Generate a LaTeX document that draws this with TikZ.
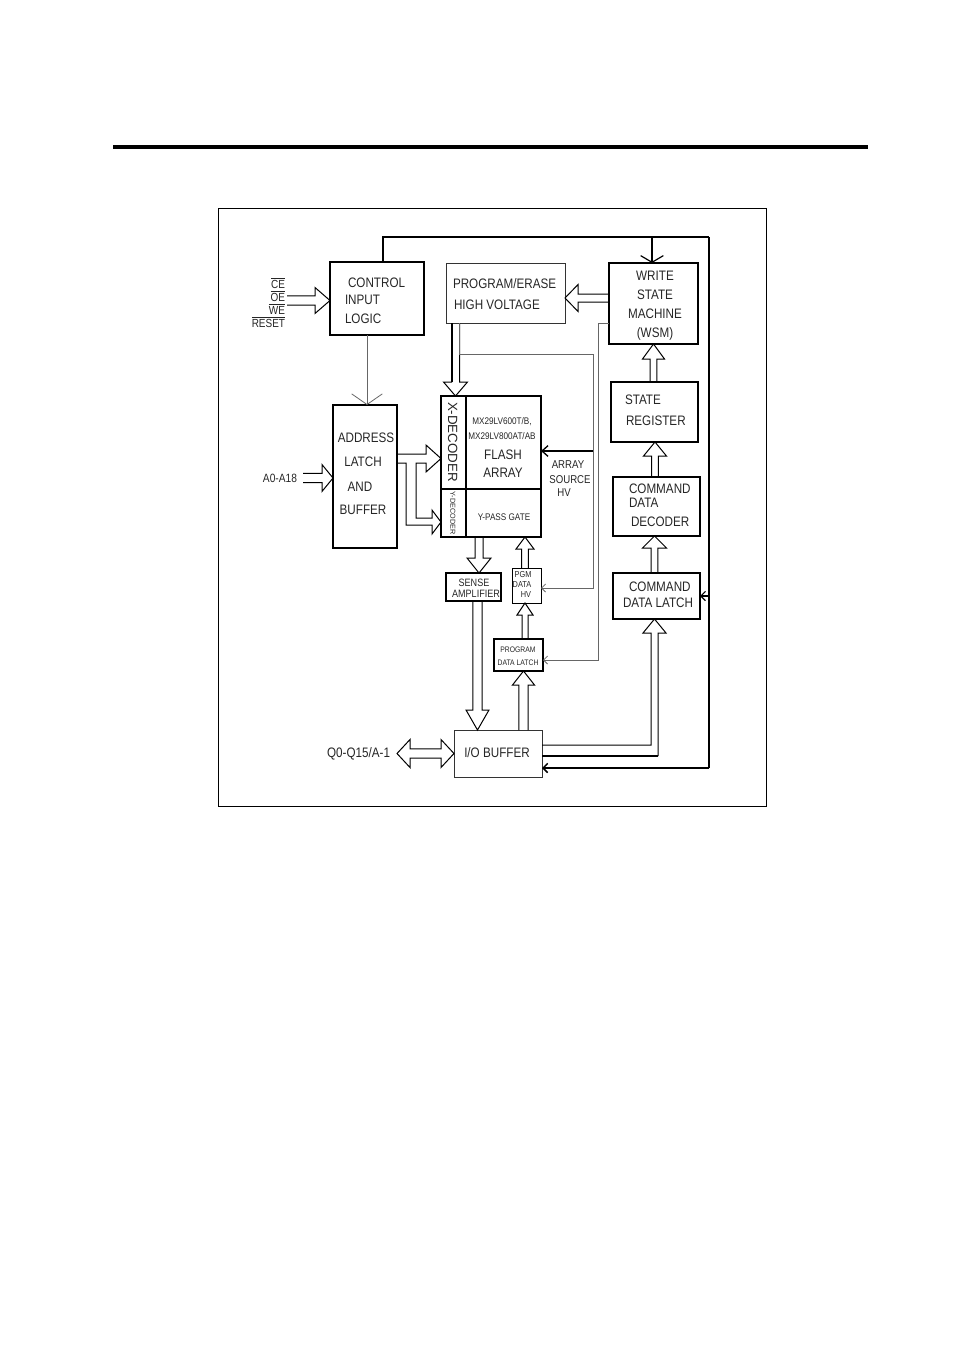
\documentclass[tikz,border=0pt]{standalone}
\usepackage{fontspec}
\setmainfont{Liberation Sans}
\newfontfamily\nf[FakeStretch=0.85]{Liberation Sans}
\usetikzlibrary{calc,fit,arrows.meta}
\newcommand\ovl[1]{\vbox{\hrule height 0.5pt\kern0.9pt\hbox{#1}}}
\newcommand\fatarrow[5]{%
  \coordinate (fah) at ($(#2)!#5!(#1)$);
  \draw[fat] ($(#1)!#3!90:(#2)$) -- ($(fah)!#3!90:(#2)$) -- ($(fah)!#4!90:(#2)$) -- (#2)
    -- ($(fah)!#4!-90:(#2)$) -- ($(fah)!#3!-90:(#2)$) -- ($(#1)!#3!-90:(#2)$);}
\newcommand\fatdarrow[5]{%
  \coordinate (fdha) at ($(#1)!#5!(#2)$);
  \coordinate (fdhb) at ($(#2)!#5!(#1)$);
  \draw[fat] (#1) -- ($(fdha)!#4!90:(#2)$) -- ($(fdha)!#3!90:(#2)$) -- ($(fdhb)!#3!90:(#2)$)
    -- ($(fdhb)!#4!90:(#2)$) -- (#2) -- ($(fdhb)!#4!-90:(#2)$) -- ($(fdhb)!#3!-90:(#2)$)
    -- ($(fdha)!#3!-90:(#2)$) -- ($(fdha)!#4!-90:(#2)$) -- cycle;}
\tikzset{
  box/.style={draw=black, inner sep=0pt, outer sep=0pt},
  thk/.style={box, line width=1.5pt},
  med/.style={box, line width=1.1pt},
  thn/.style={box, line width=0.75pt},
  fat/.style={draw=black, line width=0.75pt, line join=miter},
  txt/.style={inner sep=0pt, outer sep=0pt, text=black!85},
  tA/.style={txt, font=\nf\fontsize{10.3}{12}\selectfont, text height=7.4pt, text depth=0pt},
  tB/.style={txt, font=\nf\fontsize{7.2}{9}\selectfont, text height=5.2pt, text depth=0pt},
  tC/.style={txt, font=\nf\fontsize{8.5}{10}\selectfont, text height=6.1pt, text depth=0pt},
  tD/.style={txt, font=\nf\fontsize{8}{10}\selectfont, text height=5.7pt, text depth=0pt},
  tE/.style={txt, font=\nf\fontsize{6.5}{8}\selectfont, text height=4.7pt, text depth=0pt},
  tF/.style={txt, font=\nf\fontsize{6}{7}\selectfont, text height=4.3pt, text depth=0pt},
  tG/.style={txt, font=\nf\fontsize{8.8}{10}\selectfont, text height=6.3pt, text depth=0pt},
  tH/.style={txt, font=\nf\fontsize{9}{10}\selectfont, text height=6.4pt, text depth=0pt},
  tX/.style={txt, font=\fontsize{10}{12}\selectfont, text height=7.2pt, text depth=0pt, rotate=-90},
  tY/.style={txt, font=\fontsize{5.4}{6}\selectfont, text height=3.9pt, text depth=0pt, rotate=-90},
  wire/.style={draw=black!60, line width=0.6pt},
  smallbarb/.style={-{Straight Barb[length=3pt,width=6pt]}},
}
\begin{document}
\begin{tikzpicture}[x=0.75pt,y=-0.75pt]
\useasboundingbox (0,0) rectangle (954,1350);
% rule and frame
\draw[line width=2.3pt] (113,147) -- (868,147);
\draw[line width=0.6pt] (218,208) rectangle (766,806);
% boxes
\node[thk, fit={(330,262)(424,335)}] (cil) {};
\node[thn, draw=black!80, fit={(446,263)(565,323)}] (pe) {};
\node[thk, fit={(609,263)(698,344)}] (wsm) {};
\node[thk, fit={(611,382)(698,442)}] (sr) {};
\node[med, fit={(613,477)(700,536)}] (cdd) {};
\node[thk, fit={(613,573)(700,619)}] (cdl) {};
\node[med, fit={(333,405)(397,548)}] (addr) {};
\node[thk, fit={(441,396)(541,537)}] (fa) {};
\node[med, fit={(446,573)(501,601)}] (sa) {};
\node[thn, fit={(512,568)(541,603)}] (pgm) {};
\node[thk, fit={(494,639)(543,671)}] (pdl) {};
\node[thn, draw=black!80, fit={(454,730)(542,777)}] (io) {};
% flash array dividers
\draw[line width=0.8pt] ($(fa.north west)+(25,0)$) -- ($(fa.south west)+(25,0)$);
\draw[line width=1.5pt] ($(fa.north west)+(0,93)$) -- ($(fa.north east)+(0,93)$);
% texts
\node[tA, anchor=west] (t1) at (348,283) {CONTROL};
\node[tA, anchor=west] (t2) at (345,300) {INPUT};
\node[tA, anchor=west] (t3) at (345,319) {LOGIC};
\node[tA, anchor=west] (t4) at (453,284) {PROGRAM/ERASE};
\node[tA, anchor=west] (t5) at (454,305) {HIGH VOLTAGE};
\node[tA] (t6) at (655,276) {WRITE};
\node[tA] (t7) at (655,295) {STATE};
\node[tA] (t8) at (655,314) {MACHINE};
\node[tA] (t9) at (655,333) {(WSM)};
\node[tA, anchor=west] (t10) at (625,400) {STATE};
\node[tA, anchor=west] (t11) at (626,421) {REGISTER};
\node[tA, anchor=west] (t12) at (629,489) {COMMAND};
\node[tA, anchor=west] (t13) at (629,503) {DATA};
\node[tA, anchor=west] (t14) at (631,522) {DECODER};
\node[tA, anchor=west] (t15) at (629,587) {COMMAND};
\node[tA, anchor=west] (t16) at (623,603) {DATA LATCH};
\node[tA] (t17) at (366,438) {ADDRESS};
\node[tA] (t18) at (363,462) {LATCH};
\node[tA] (t19) at (360,487) {AND};
\node[tA] (t20) at (363,510) {BUFFER};
\node[tB] (t21) at (502,421) {MX29LV600T/B,};
\node[tB] (t22) at (502,436) {MX29LV800AT/AB};
\node[tA] (t23) at (503,455) {FLASH};
\node[tA] (t24) at (503,473) {ARRAY};
\node[tB] (t25) at (504,517) {Y-PASS GATE};
\node[tX] (t26) at (453,442) {X-DECODER};
\node[tY] (t27) at (453,513) {Y-DECODER};
\node[tC] (t28) at (568,464) {ARRAY};
\node[tC] (t29) at (570,479) {SOURCE};
\node[tC] (t30) at (564,492) {HV};
\node[tD] (t31) at (474,583) {SENSE};
\node[tD] (t32) at (476,594) {AMPLIFIER};
\node[tE] (t33) at (523,574) {PGM};
\node[tE] (t34) at (522,584) {DATA};
\node[tE] (t35) at (526,594) {HV};
\node[tF] (t36) at (518,650) {PROGRAM};
\node[tF] (t37) at (518,663) {DATA LATCH};
\node[tA] (t38) at (497,753) {I/O BUFFER};
\node[tA, anchor=east] (t39) at (390,753) {Q0-Q15/A-1};
\node[tH, anchor=east] (t40) at (297,478) {A0-A18};
\node[tG, anchor=east] (t41) at (285,284) {\ovl{CE}};
\node[tG, anchor=east] (t42) at (285,297) {\ovl{OE}};
\node[tG, anchor=east] (t43) at (285,310) {\ovl{WE}};
\node[tG, anchor=east] (t44) at (285,323) {\ovl{RESET}};
% fat arrows
\coordinate (c1s) at (287,300.5); \coordinate (c1t) at (c1s -| cil.west);
\fatarrow{c1s}{c1t}{3.4pt}{9.75pt}{11.25pt}
\coordinate (w2s) at ($(wsm.north west)+(0,35)$); \coordinate (w2t) at (w2s -| pe.east);
\fatarrow{w2s}{w2t}{3pt}{10.1pt}{9.75pt}
\coordinate (p3s) at ($(pe.south west)+(9.5,0)$); \coordinate (p3t) at (p3s |- fa.north);
\fatarrow{p3s}{p3t}{3pt}{9pt}{10.5pt}
\draw[line width=1.5pt] ($(p3s)+(-4,0)$) -- ($(p3t)+(-4,-14)$);
\coordinate (s4s) at ($(sr.north west)+(42.5,0)$); \coordinate (s4t) at (s4s |- wsm.south);
\fatarrow{s4s}{s4t}{2.6pt}{8.25pt}{11.25pt}
\coordinate (d5s) at ($(cdd.north west)+(42,0)$); \coordinate (d5t) at (d5s |- sr.south);
\fatarrow{d5s}{d5t}{2.5pt}{8.6pt}{10.5pt}
\coordinate (l6s) at ($(cdl.north west)+(41.5,0)$); \coordinate (l6t) at (l6s |- cdd.south);
\fatarrow{l6s}{l6t}{2.6pt}{9pt}{9pt}
\coordinate (a8s) at (303,478); \coordinate (a8t) at (a8s -| addr.west);
\fatarrow{a8s}{a8t}{3.4pt}{10.1pt}{8.25pt}
\coordinate (f11s) at ($(fa.south west)+(38,0)$); \coordinate (f11t) at (f11s |- sa.north);
\fatarrow{f11s}{f11t}{3pt}{9pt}{11.25pt}
\coordinate (g12s) at ($(pgm.north west)+(13,0)$); \coordinate (g12t) at (g12s |- fa.south);
\fatarrow{g12s}{g12t}{2.6pt}{6.75pt}{9pt}
\coordinate (d13s) at ($(pdl.north west)+(31,0)$); \coordinate (d13t) at (d13s |- pgm.south);
\fatarrow{d13s}{d13t}{2.25pt}{6pt}{9pt}
\coordinate (i14s) at ($(io.north west)+(69.5,0)$); \coordinate (i14t) at (i14s |- pdl.south);
\fatarrow{i14s}{i14t}{3.4pt}{8.25pt}{10.5pt}
\coordinate (s15s) at ($(sa.south west)+(31.5,0)$); \coordinate (s15t) at (s15s |- io.north);
\fatarrow{s15s}{s15t}{3.4pt}{8.6pt}{15pt}
\coordinate (q9s) at (397,753.5); \coordinate (q9t) at (q9s -| io.west);
\fatdarrow{q9s}{q9t}{3.4pt}{10.5pt}{9.75pt}
% branching arrow from address latch to X- and Y-decoder
\draw[fat] ($(addr.north east)+(0,49)$) -- (426,454) -- (426,445) -- (fa.west |- 0,458.5)
  -- (426,472) -- (426,463) -- (416,463) -- (416,518) -- (432,518) -- (432,510)
  -- (fa.west |- 0,522) -- (432,534) -- (432,525) -- (406,525) -- (406,463)
  -- ($(addr.north east)+(0,58)$);
% bent arrow from I/O buffer to command data latch
\draw[fat] ($(io.north east)+(0,15)$) -- (651,745) -- (651,633) -- (643,633) -- (l6s |- cdl.south)
  -- (666,633) -- (658,633) -- (658,756);
\draw[line width=1.2pt] (658,756) -- ($(io.north east)+(0,26)$);
% control bus
\coordinate (bTR) at (709,237); \coordinate (bBR) at (709,768);
\draw[line width=1.4pt] ($(cil.north west)+(53,0)$) |- (bTR);
\draw[line width=1.1pt] (bTR) -- (bBR);
\draw[line width=1.1pt, -{Straight Barb[length=3.5pt,width=7pt]}] (bBR) -- (bBR -| io.east);
\coordinate (wb) at (652,237);
\draw[line width=0.9pt, -{Straight Barb[length=5pt,width=17pt]}] (wb) -- (wb |- wsm.north);
\coordinate (lb) at (709,596);
\draw[line width=0.9pt, -{Straight Barb[length=3.5pt,width=7pt]}] (lb) -- (lb -| cdl.east);
% control logic to address latch
\coordinate (ca) at ($(cil.south west)+(37,0)$);
\draw[wire, -{Straight Barb[length=8pt,width=23pt]}] (ca) -- (ca |- addr.north);
% high voltage wires
\coordinate (g0) at ($(pe.south west)+(13,0)$);
\coordinate (g1) at (459,354); \coordinate (g2) at (593,354);
\coordinate (g3) at (593,451); \coordinate (g4) at (593,588);
\draw[wire, smallbarb] (g0) -- (g1) -- (g2) -- (g4) -- (g4 -| pgm.east);
\draw[line width=1pt, -{Straight Barb[length=4.5pt,width=8pt]}] (g3) -- (g3 -| fa.east);
\coordinate (h1) at (598,323); \coordinate (h2) at (598,660);
\draw[wire, smallbarb] (h1 -| wsm.west) -- (h1) -- (h2) -- (h2 -| pdl.east);
\end{tikzpicture}
\end{document}
